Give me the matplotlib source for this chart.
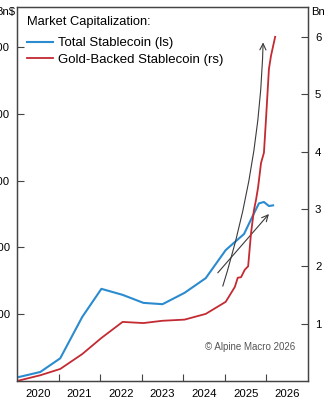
import matplotlib
matplotlib.use("Agg")
import matplotlib.pyplot as plt

plt.rcParams['font.family'] = ['Liberation Sans', 'DejaVu Sans']

# Total stablecoin market cap, Bn$ (left scale)
total_years = [2019.55, 2020.06, 2020.54, 2021.07, 2021.53, 2022.04, 2022.54, 2023.0, 2023.53,
               2024.04, 2024.52, 2024.72, 2024.96, 2025.2, 2025.32, 2025.44, 2025.56, 2025.66]
total_cap = [6, 13.5, 34, 96, 138, 129, 117, 115, 132,
             154, 196, 207, 220, 251, 266, 268, 262, 263]

# Gold-backed stablecoin market cap, Bn$ (right scale)
gold_years = [2019.5, 2020.06, 2020.54, 2021.07, 2021.53, 2022.04, 2022.54, 2023.0, 2023.53,
              2024.04, 2024.52, 2024.74, 2024.81, 2024.89, 2024.98, 2025.06, 2025.13, 2025.2,
              2025.25, 2025.3, 2025.37, 2025.44, 2025.49, 2025.56, 2025.61, 2025.71]
gold_cap = [0.0, 0.10, 0.21, 0.47, 0.75, 1.03, 1.01, 1.05, 1.07,
            1.17, 1.38, 1.64, 1.80, 1.81, 1.94, 2.0, 2.58, 2.98,
            3.16, 3.38, 3.80, 3.98, 4.57, 5.44, 5.67, 6.0]

year_labels = [2020, 2021, 2022, 2023, 2024, 2025, 2026]
left_ticks = [100, 200, 300, 400, 500]
right_ticks = [1, 2, 3, 4, 5, 6]

# trend arrows (start, end) in left-axis units
long_arrow = ((2024.45, 142), (2025.42, 507))
short_arrow = ((2024.33, 162), (2025.56, 250))

blue = '#2b8bcf'
red = '#c32a32'
axc = '#444444'

fig = plt.figure(figsize=(3.24, 4.0), dpi=100)
ax = fig.add_axes([17/324, 19/400, 291/324, 374/400])
ax2 = ax.twinx()

l1, = ax.plot(total_years, total_cap, color=blue, lw=1.5, label='Total Stablecoin (ls)')
l2, = ax2.plot(gold_years, gold_cap, color=red, lw=1.3, label='Gold-Backed Stablecoin (rs)')

ax.set_xlim(2019.5, 2026.5)
ax.set_ylim(0, 560)
ax2.set_ylim(0, 6.52)

ax.set_xticks([y + 0.5 for y in year_labels[:-1]])
ax.set_xticklabels([])
ax.set_xticks(year_labels, minor=True)
ax.set_xticklabels([str(y) for y in year_labels], minor=True)
ax.tick_params(axis='x', which='major', direction='in', length=5, color=axc)
ax.tick_params(axis='x', which='minor', length=0, pad=6, labelsize=8.2)

ax.set_yticks(left_ticks)
ax.set_yticklabels([str(v) for v in left_ticks])
ax.tick_params(axis='y', direction='in', length=5, color=axc, pad=5, labelsize=8.2)
ax2.set_yticks(right_ticks)
ax2.set_yticklabels([str(v) for v in right_ticks])
ax2.tick_params(axis='y', direction='in', length=5, color=axc, pad=5, labelsize=8.2)

for a in (ax, ax2):
    for s in a.spines.values():
        s.set_color(axc)
        s.set_linewidth(0.9)

fig.text(15/324, 1 - 12/400, 'Bn$', ha='right', va='center', fontsize=8.2)
fig.text(311/324, 1 - 12/400, 'Bn$', ha='left', va='center', fontsize=8.2)

for (x0, y0), (x1, y1), rad in [(long_arrow[0], long_arrow[1], 0.07),
                                (short_arrow[0], short_arrow[1], 0.0)]:
    ax.annotate('', xy=(x1, y1), xytext=(x0, y0),
                arrowprops=dict(arrowstyle='->,head_length=0.45,head_width=0.22',
                                color='#3a3a3a', lw=0.8, shrinkA=0, shrinkB=0,
                                connectionstyle='arc3,rad=%s' % rad))

ax.text(10/291, 1 - 15/374, 'Market Capitalization:', transform=ax.transAxes,
        ha='left', va='center', fontsize=9.3)
ax.legend(handles=[l1, l2], loc='upper left', bbox_to_anchor=(10/291, 1 - 30/374),
          frameon=False, fontsize=9.5, handlelength=1.95, handletextpad=0.4,
          labelspacing=0.33, borderaxespad=0, borderpad=0)

ax.text(278/291, 0.09, '\u00a9 Alpine Macro 2026', transform=ax.transAxes,
        ha='right', va='center', fontsize=7, color='#555555')

fig.savefig('out.png', dpi=100)
